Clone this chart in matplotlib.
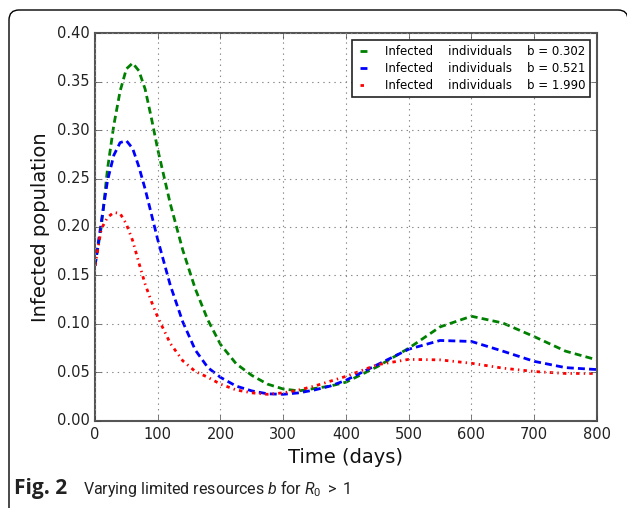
import matplotlib
matplotlib.use("Agg")
import matplotlib.pyplot as plt
from matplotlib.patches import FancyBboxPatch
from matplotlib.transforms import IdentityTransform

# time points (days)
days = [0, 10, 20, 30, 40, 50, 60, 70, 80, 90, 100, 120, 140, 160, 180, 200,
        225, 250, 275, 300, 325, 350, 375, 400, 450, 500, 550, 600, 650, 700,
        750, 800]

# infected population for each value of b
infected_b0302 = [0.160, 0.200, 0.260, 0.305, 0.340, 0.363, 0.369, 0.361, 0.342,
                  0.312, 0.280, 0.224, 0.176, 0.136, 0.104, 0.079, 0.059, 0.047,
                  0.038, 0.033, 0.031, 0.0335, 0.036, 0.040, 0.056, 0.075, 0.097,
                  0.108, 0.101, 0.087, 0.072, 0.063]
infected_b0521 = [0.160, 0.205, 0.248, 0.274, 0.287, 0.289, 0.281, 0.262, 0.239,
                  0.213, 0.187, 0.140, 0.102, 0.073, 0.055, 0.045, 0.036, 0.031,
                  0.028, 0.0275, 0.029, 0.032, 0.036, 0.042, 0.058, 0.074, 0.083,
                  0.082, 0.072, 0.0615, 0.055, 0.053]
infected_b1990 = [0.160, 0.198, 0.210, 0.215, 0.214, 0.203, 0.186, 0.163, 0.141,
                  0.123, 0.107, 0.080, 0.062, 0.051, 0.045, 0.038, 0.032, 0.029,
                  0.0275, 0.029, 0.032, 0.036, 0.041, 0.046, 0.058, 0.0635, 0.063,
                  0.0595, 0.0545, 0.051, 0.049, 0.049]

labels = ["Infected    individuals    b = 0.302",
          "Infected    individuals    b = 0.521",
          "Infected    individuals    b = 1.990"]

xticks = [0, 100, 200, 300, 400, 500, 600, 700, 800]
yticks = [0.00, 0.05, 0.10, 0.15, 0.20, 0.25, 0.30, 0.35, 0.40]

plt.style.use("classic")
plt.rcParams["mathtext.fontset"] = "custom"
plt.rcParams["mathtext.rm"] = "Roboto"
plt.rcParams["mathtext.it"] = "Roboto:italic"

fig = plt.figure(figsize=(6.27, 5.08), dpi=100, facecolor="white")
ax = fig.add_axes([0.1515, 0.1713, 0.8005, 0.7637])

ax.plot(days, infected_b0302, color="g", ls="--", dashes=(5, 3), lw=2, label=labels[0])
ax.plot(days, infected_b0521, color="b", ls="--", dashes=(5, 3), lw=2, label=labels[1])
ax.plot(days, infected_b1990, color="r", ls="-.", dashes=(2.5, 3, 1, 3), lw=2,
        label=labels[2])

ax.set_xlim(0, 800)
ax.set_ylim(0, 0.40)
ax.set_xticks(xticks)
ax.set_yticks(yticks)
ax.set_xticklabels([str(t) for t in xticks], fontsize=10.5, color="#222222")
ax.set_yticklabels(["%.2f" % t for t in yticks], fontsize=10.5, color="#222222")
ax.grid(True, color="#888888", linestyle=":", linewidth=0.8)
ax.tick_params(direction="in", length=4, color="#444444")
for s in ax.spines.values():
    s.set_color("#555555")
    s.set_linewidth(1.5)

ax.set_xlabel("Time (days)", fontsize=14, color="#111111")
ax.set_ylabel("Infected population", fontsize=14, color="#111111")

leg = ax.legend(loc="upper right", fontsize=8.5, handlelength=1.2,
                fancybox=False, borderpad=0.4, labelspacing=0.35,
                handletextpad=1.2, borderaxespad=0.6)
leg.get_frame().set_edgecolor("#222222")
leg.get_frame().set_linewidth(1.2)

# caption and rounded frame like the journal figure box
fig.text(0.022, 0.027, "Fig. 2", fontsize=15, fontweight="bold",
         family="Open Sans", color="#222222")
fig.text(0.132, 0.027, r"Varying limited resources $b$ for $R_0\;>\;1$",
         fontsize=11.5, family="Roboto", color="#222222")

frame = FancyBboxPatch((9, -20), 619, 518, boxstyle="round,pad=0,rounding_size=10",
                       transform=IdentityTransform(), fill=False,
                       edgecolor="black", linewidth=1.0)
fig.patches.append(frame)

fig.savefig("out.png", dpi=100, facecolor="white")
